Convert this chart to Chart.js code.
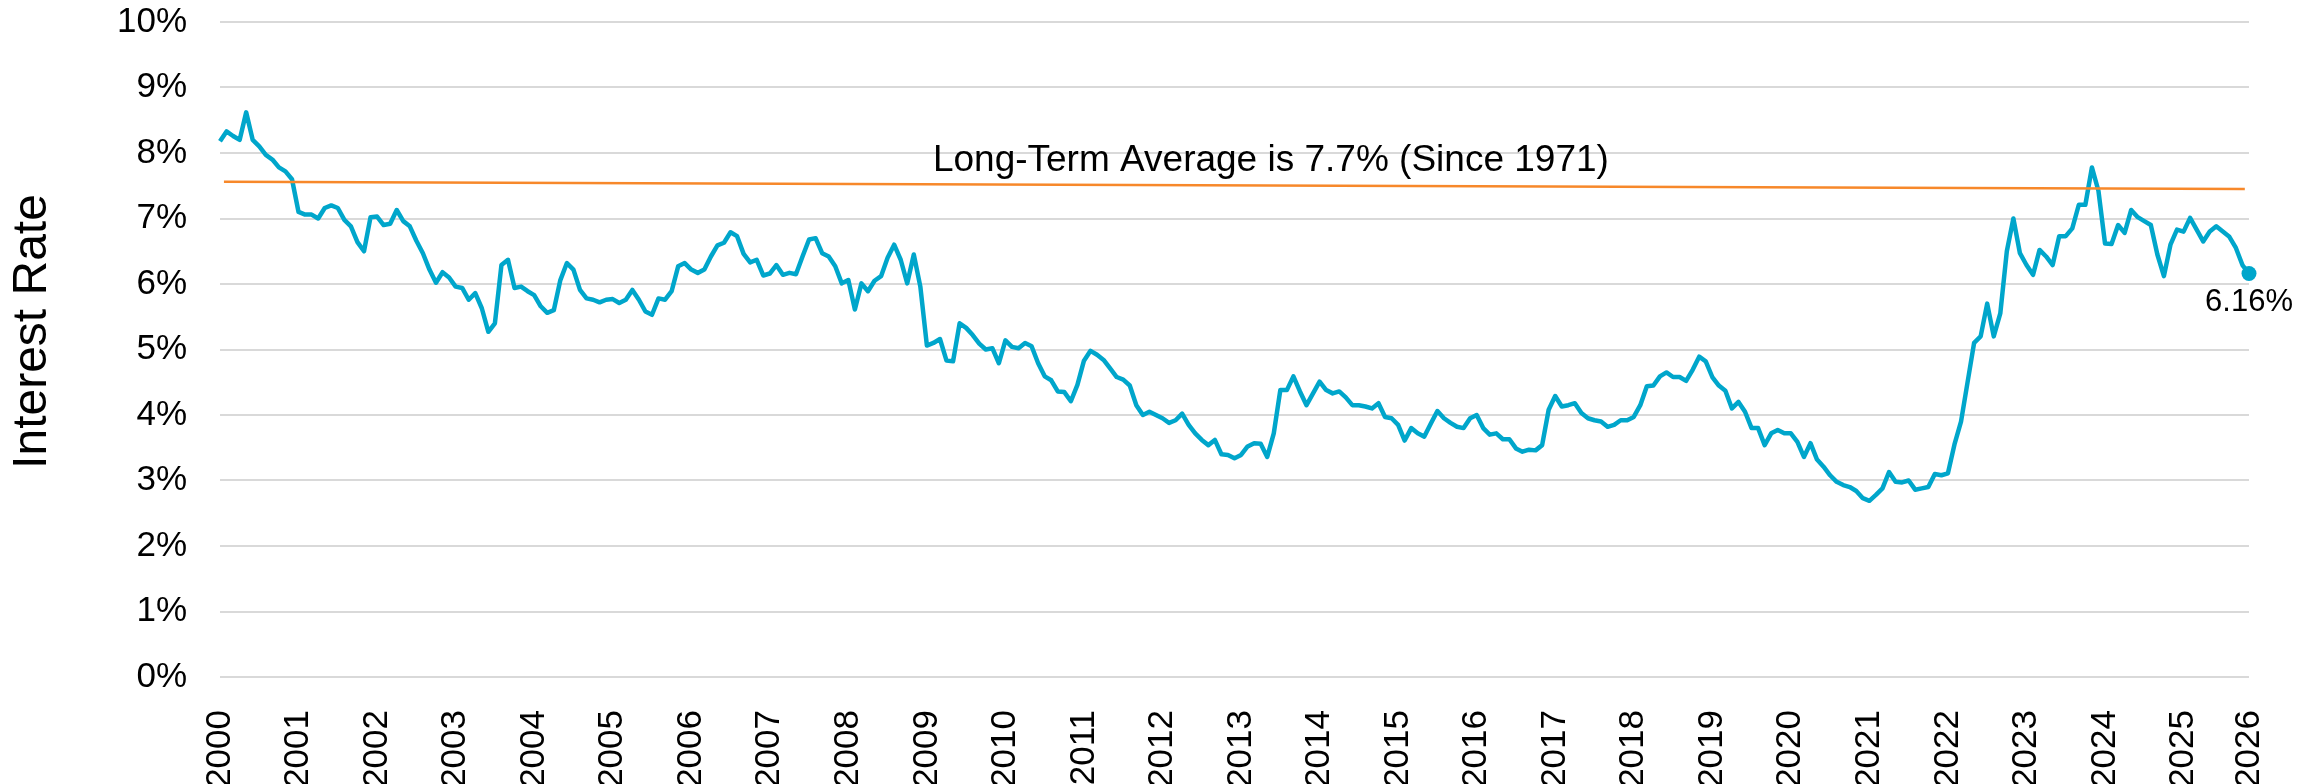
<!DOCTYPE html>
<html>
<head>
<meta charset="utf-8">
<title>Interest Rate</title>
<script src="https://cdn.jsdelivr.net/npm/chart.js@4.4.1/dist/chart.umd.min.js"></script>
<style>
  html, body { margin: 0; padding: 0; background: #fff; }
  #chart { display: block; }
</style>
</head>
<body>
<canvas id="chart" width="2321" height="784"></canvas>
<script>
// 30-year fixed mortgage rate (%), one reading per month from Jan 2000
const startYear = 2000;
const rates = [
  8.18, 8.33, 8.26, 8.20, 8.62, 8.20, 8.10, 7.97, 7.90, 7.78, 7.72, 7.60, // 2000
  7.10, 7.06, 7.06, 7.00, 7.16, 7.20, 7.16, 6.98, 6.88, 6.64, 6.50, 7.02, // 2001
  7.03, 6.90, 6.92, 7.13, 6.96, 6.88, 6.66, 6.47, 6.22, 6.02, 6.18, 6.10, // 2002
  5.96, 5.94, 5.76, 5.86, 5.63, 5.27, 5.40, 6.29, 6.37, 5.94, 5.96, 5.89, // 2003
  5.83, 5.66, 5.56, 5.60, 6.06, 6.32, 6.22, 5.91, 5.78, 5.76, 5.72, 5.76, // 2004
  5.77, 5.71, 5.76, 5.91, 5.76, 5.58, 5.53, 5.78, 5.76, 5.89, 6.27, 6.32, // 2005
  6.22, 6.17, 6.22, 6.42, 6.59, 6.63, 6.79, 6.73, 6.46, 6.33, 6.37, 6.13, // 2006
  6.16, 6.29, 6.14, 6.17, 6.15, 6.42, 6.68, 6.70, 6.47, 6.42, 6.27, 6.01, // 2007
  6.06, 5.61, 6.01, 5.89, 6.05, 6.12, 6.40, 6.60, 6.37, 6.01, 6.45, 5.96, // 2008
  5.06, 5.10, 5.16, 4.83, 4.82, 5.40, 5.33, 5.22, 5.09, 5.00, 5.02, 4.79, // 2009
  5.14, 5.04, 5.02, 5.10, 5.05, 4.79, 4.59, 4.53, 4.36, 4.35, 4.21, 4.46, // 2010
  4.83, 4.98, 4.92, 4.84, 4.71, 4.58, 4.54, 4.45, 4.15, 4.00, 4.05, 4.00, // 2011
  3.95, 3.88, 3.92, 4.02, 3.85, 3.72, 3.62, 3.54, 3.62, 3.40, 3.39, 3.34, // 2012
  3.39, 3.52, 3.57, 3.56, 3.36, 3.72, 4.38, 4.38, 4.59, 4.36, 4.15, 4.33, // 2013
  4.51, 4.38, 4.33, 4.36, 4.27, 4.15, 4.15, 4.13, 4.10, 4.18, 3.97, 3.95, // 2014
  3.85, 3.61, 3.80, 3.72, 3.67, 3.87, 4.06, 3.95, 3.88, 3.82, 3.80, 3.95, // 2015
  4.00, 3.80, 3.70, 3.72, 3.63, 3.63, 3.49, 3.44, 3.47, 3.46, 3.54, 4.08, // 2016
  4.29, 4.13, 4.15, 4.18, 4.03, 3.95, 3.92, 3.90, 3.82, 3.85, 3.92, 3.92, // 2017
  3.97, 4.15, 4.44, 4.45, 4.59, 4.65, 4.58, 4.58, 4.52, 4.69, 4.89, 4.82, // 2018
  4.58, 4.45, 4.37, 4.10, 4.20, 4.05, 3.80, 3.80, 3.54, 3.72, 3.77, 3.72, // 2019
  3.72, 3.59, 3.36, 3.57, 3.32, 3.21, 3.08, 2.98, 2.93, 2.90, 2.84, 2.73, // 2020
  2.69, 2.78, 2.88, 3.13, 2.98, 2.97, 3.00, 2.86, 2.88, 2.90, 3.10, 3.08, // 2021
  3.11, 3.55, 3.90, 4.50, 5.10, 5.20, 5.70, 5.20, 5.55, 6.50, 7.00, 6.47, // 2022
  6.29, 6.14, 6.52, 6.42, 6.29, 6.73, 6.73, 6.85, 7.21, 7.21, 7.78, 7.42, // 2023
  6.62, 6.61, 6.90, 6.78, 7.13, 7.02, 6.96, 6.90, 6.45, 6.12, 6.60, 6.83, // 2024
  6.80, 7.01, 6.83, 6.65, 6.80, 6.88, 6.80, 6.72, 6.55, 6.29, 6.16        // 2025
];

// long-term average reference line (start / end)
const avgDates = [2000.05, 2025.78];
const avgRates = [7.56, 7.45];

const yearTicks = [];
for (let y = 2000; y <= 2026; y++) yearTicks.push(y);
const rateTicks = [0, 1, 2, 3, 4, 5, 6, 7, 8, 9, 10];

const avgText = 'Long-Term Average is 7.7% (Since 1971)';
const yTitle = 'Interest Rate';

const TEAL = '#00a6cb';
const ORANGE = '#f7882a';
const FONT = '"Liberation Sans", Arial, Helvetica, sans-serif';

Chart.defaults.font.family = FONT;
Chart.defaults.color = '#000';

const series = rates.map((v, i) => ({ x: startYear + i / 12, y: v }));
const lastX = series[series.length - 1].x;

// text that sits on top of the plot: axis title, average note, last value
const labelsPlugin = {
  id: 'labels',
  afterDraw(chart) {
    const { ctx, chartArea, scales } = chart;
    ctx.save();

    // y axis title
    ctx.font = '48px ' + FONT;
    ctx.fillStyle = '#000';
    ctx.textAlign = 'center';
    ctx.textBaseline = 'middle';
    ctx.translate(33, (chartArea.top + chartArea.bottom) / 2 - 18);
    ctx.rotate(-Math.PI / 2);
    ctx.fillText(yTitle, 0, 0);
    ctx.setTransform(1, 0, 0, 1, 0, 0);

    // note above the average line
    ctx.font = '37px ' + FONT;
    ctx.textBaseline = 'alphabetic';
    ctx.fillText(avgText, scales.x.getPixelForValue(2013.38), scales.y.getPixelForValue(7.73));

    // value of the latest reading
    const meta = chart.getDatasetMeta(1);
    const pt = meta.data[meta.data.length - 1];
    ctx.font = '31px ' + FONT;
    ctx.textBaseline = 'middle';
    ctx.fillText(rates[rates.length - 1].toFixed(2) + '%', pt.x, pt.y + 29);

    ctx.restore();
  }
};

new Chart(document.getElementById('chart'), {
  type: 'line',
  data: {
    datasets: [
      {
        label: 'Long-term average',
        data: avgDates.map((d, i) => ({ x: d, y: avgRates[i] })),
        borderColor: ORANGE,
        borderWidth: 2.5,
        pointRadius: 0,
        order: 1,
      },
      {
        label: 'Rate',
        data: series,
        borderColor: TEAL,
        backgroundColor: TEAL,
        borderWidth: 4.5,
        borderJoinStyle: 'round',
        tension: 0,
        pointRadius: ctx => ctx.dataIndex === rates.length - 1 ? 7.5 : 0,
        pointBorderWidth: 0,
        pointBackgroundColor: TEAL,
        clip: false,
        order: 2,
      },
    ],
  },
  options: {
    responsive: false,
    animation: false,
    devicePixelRatio: 1,
    layout: { padding: { left: 0, top: 22, right: 72, bottom: 0 } },
    plugins: { legend: { display: false }, tooltip: { enabled: false } },
    scales: {
      x: {
        type: 'linear',
        min: startYear,
        max: lastX,
        grid: { display: false },
        border: { display: false },
        afterBuildTicks: s => { s.ticks = yearTicks.map(y => ({ value: Math.min(y, s.max) })); },
        afterFit: s => { s.height = 107; s.paddingLeft = 0; s.paddingRight = 0; },
        ticks: {
          autoSkip: false,
          minRotation: 90,
          maxRotation: 90,
          padding: 25,
          font: { size: 35 },
          color: '#000',
          callback: (v, i) => String(yearTicks[i]),
        },
      },
      y: {
        min: 0,
        max: 10,
        grid: { color: '#d9d9d9', lineWidth: 2, drawTicks: false },
        border: { display: false },
        afterBuildTicks: s => { s.ticks = rateTicks.map(v => ({ value: v })); },
        afterFit: s => { s.width = 220; s.paddingTop = 0; s.paddingBottom = 0; },
        ticks: {
          padding: 33,
          font: { size: 35 },
          color: '#000',
          callback: v => v + '%',
        },
      },
    },
  },
  plugins: [labelsPlugin],
});
</script>
</body>
</html>
